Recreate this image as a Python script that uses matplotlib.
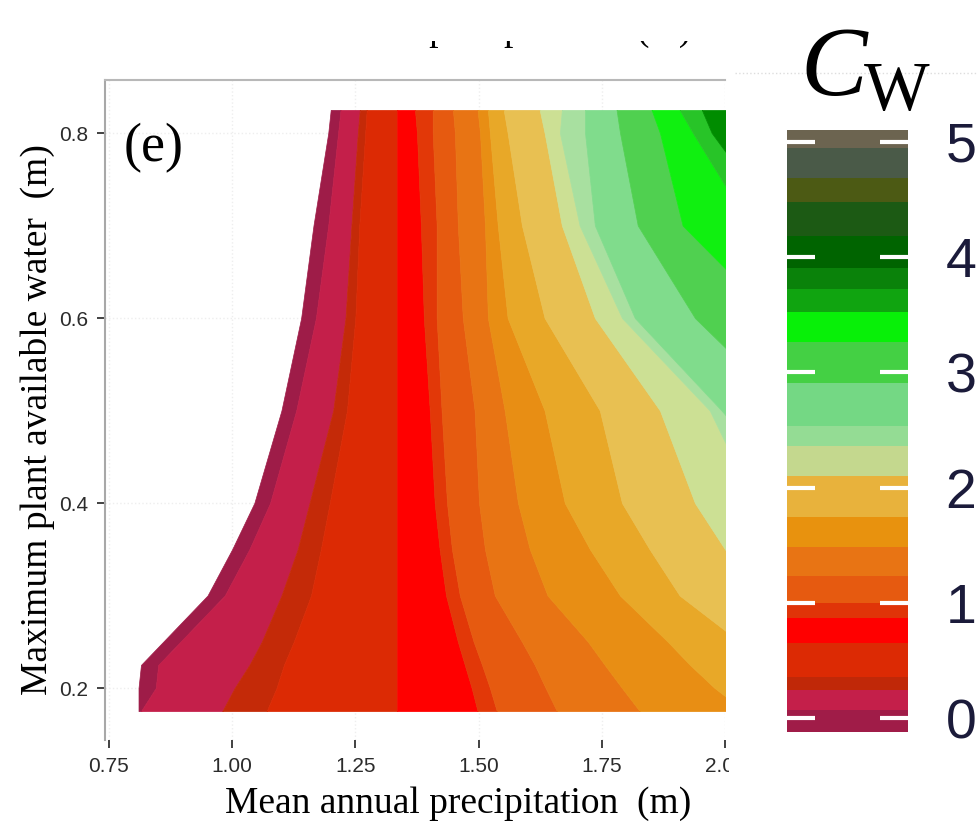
import numpy as np
import matplotlib
matplotlib.use('Agg')
import matplotlib.pyplot as plt
from matplotlib.patches import Rectangle

serif = ['Liberation Serif', 'DejaVu Serif']
narrow = ['Liberation Sans Narrow', 'Liberation Sans', 'DejaVu Sans']

y_levels = [0.175, 0.2, 0.225, 0.25, 0.3, 0.35, 0.4, 0.5, 0.6, 0.7, 0.8, 0.825]

# x position (m) of each band edge at those y levels, left to right
edge_x = [0.81, 0.81, 0.815, 0.86, 0.95, 1.00, 1.045, 1.10, 1.14, 1.165, 1.195, 1.20]
b1 = [0.815, 0.845, 0.85, 0.895, 0.985, 1.035, 1.077, 1.13, 1.17, 1.195, 1.215, 1.22]
b2 = [0.98, 1.005, 1.035, 1.06, 1.10, 1.133, 1.157, 1.205, 1.23, 1.242, 1.255, 1.259]
b3 = [1.07, 1.09, 1.105, 1.125, 1.16, 1.18, 1.198, 1.233, 1.25, 1.258, 1.27, 1.273]
b4 = [1.335, 1.335, 1.335, 1.335, 1.335, 1.335, 1.335, 1.335, 1.335, 1.335, 1.335, 1.335]
b5 = [1.498, 1.486, 1.472, 1.458, 1.434, 1.421, 1.411, 1.401, 1.389, 1.383, 1.375, 1.371]
b6 = [1.537, 1.523, 1.507, 1.490, 1.462, 1.446, 1.436, 1.425, 1.415, 1.415, 1.407, 1.407]
b7 = [1.659, 1.636, 1.614, 1.588, 1.533, 1.513, 1.501, 1.492, 1.468, 1.458, 1.452, 1.448]
b8 = [1.827, 1.791, 1.756, 1.722, 1.640, 1.604, 1.580, 1.553, 1.519, 1.513, 1.503, 1.498]
b9 = [2.04, 1.979, 1.929, 1.884, 1.787, 1.726, 1.675, 1.634, 1.559, 1.539, 1.523, 1.519]
b10 = [2.192, 2.131, 2.081, 2.03, 1.908, 1.847, 1.791, 1.746, 1.634, 1.588, 1.559, 1.551]
b11 = [2.354, 2.294, 2.233, 2.172, 2.07, 2.0, 1.939, 1.868, 1.736, 1.669, 1.634, 1.624]
b12 = [2.517, 2.456, 2.395, 2.334, 2.212, 2.131, 2.06, 1.969, 1.791, 1.705, 1.665, 1.669]
b13 = [2.618, 2.557, 2.496, 2.436, 2.314, 2.233, 2.152, 1.993, 1.817, 1.736, 1.716, 1.716]
b14 = [2.7, 2.65, 2.6, 2.55, 2.45, 2.35, 2.273, 2.131, 1.939, 1.823, 1.787, 1.780]
b15 = [2.8, 2.75, 2.7, 2.65, 2.55, 2.45, 2.4, 2.25, 2.1, 1.914, 1.868, 1.851]
b16 = [2.9, 2.85, 2.8, 2.75, 2.65, 2.55, 2.5, 2.35, 2.17, 2.05, 1.935, 1.908]
b17 = [3.0, 2.95, 2.9, 2.85, 2.75, 2.65, 2.6, 2.45, 2.25, 2.111, 1.973, 1.953]
right_x = [3.5] * 12

band_colors = ['#9e1c48', '#c41f4a', '#c42a08', '#dc2a04', '#ff0000', '#e23808',
               '#e65a10', '#e87414', '#e88e14', '#e8a828', '#e8c052', '#cce094',
               '#a8e0a0', '#80dc8c', '#50d050', '#10f010', '#28c428', '#008c00']

# colour key (C_W)
cb_bounds = [-0.12, 0.07, 0.24, 0.36, 0.65, 0.87, 1.0, 1.23, 1.48, 1.74, 2.1, 2.36,
             2.53, 2.91, 3.26, 3.52, 3.72, 3.9, 4.18, 4.48, 4.68, 4.94, 5.1]
cb_colors = ['#a01c48', '#c41f4a', '#c02808', '#dc2a04', '#ff0000', '#e03408',
             '#e65a10', '#e87414', '#e8920e', '#e8b23c', '#c4d88e', '#94dc94',
             '#74d884', '#44d044', '#08f008', '#10a410', '#0a820a', '#006400',
             '#1c5a14', '#4c5a14', '#4a5a48', '#6c6450']
cb_ticks = [0, 1, 2, 3, 4, 5]

x_ticks = [0.75, 1.0, 1.25, 1.5, 1.75, 2.0]
x_ticklabels = ['0.75', '1.00', '1.25', '1.50', '1.75', '2.00']
y_ticks = [0.2, 0.4, 0.6, 0.8]

W, H = 978, 834
fig = plt.figure(figsize=(W / 100, H / 100), dpi=100)

ax = fig.add_axes([105 / W, 94 / H, 620 / W, 660 / H])
bounds = [edge_x, b1, b2, b3, b4, b5, b6, b7, b8, b9, b10, b11, b12, b13, b14,
          b15, b16, b17, right_x]
for k, c in enumerate(band_colors):
    ax.fill_betweenx(y_levels, bounds[k], bounds[k + 1], color=c, ec=c, lw=0.5)

ax.set_xlim(0.742, 2.0)
ax.set_ylim(0.1438, 0.8573)
ax.set_xticks(x_ticks)
ax.set_xticklabels(x_ticklabels)
ax.set_yticks(y_ticks)
ax.set_yticklabels(['0.2', '0.4', '0.6', '0.8'])
ax.grid(True, color='#eeeeee', lw=1, ls=':')
ax.set_axisbelow(True)
for s in ['right', 'bottom']:
    ax.spines[s].set_visible(False)
ax.spines['left'].set_color('#a8a8a8')
ax.spines['left'].set_linewidth(1.5)
ax.spines['top'].set_color('#b8b8b8')
ax.spines['top'].set_linewidth(1.5)
ax.tick_params(length=6, width=1.3, color='#333333', labelcolor='#2b2b2b', pad=6)
for lab in ax.get_xticklabels() + ax.get_yticklabels():
    lab.set_family(narrow)
    lab.set_fontsize(15)

ax.set_xlabel('Mean annual precipitation  (m)', family=serif, fontsize=27)
ax.xaxis.set_label_coords((458 - 105) / 620, -0.07)
ax.set_ylabel('Maximum plant available water  (m)', family=serif, fontsize=27)
ax.yaxis.set_label_coords(-0.08, 0.485)
ax.text(0.03, 0.897, '(e)', transform=ax.transAxes, family=serif, fontsize=39,
        va='center', ha='left')

# colour key
cax = fig.add_axes([787 / W, (H - 732) / H, 121 / W, 602 / H])
cax.bar(0, np.diff(cb_bounds), bottom=cb_bounds[:-1], width=1, color=cb_colors)
cax.set_xlim(-0.5, 0.5)
cax.set_ylim(cb_bounds[0], cb_bounds[-1])
cax.set_xticks([])
cax.set_yticks(cb_ticks)
for s in cax.spines.values():
    s.set_visible(False)
cax.tick_params(axis='y', direction='in', length=20, width=3, color='white',
                left=True, right=True, labelleft=False, labelright=True,
                labelcolor='#1b1b3a', pad=27)
for lab in cax.get_yticklabels():
    lab.set_family(narrow)
    lab.set_fontsize(40)

fig.text(800 / W, (H - 95) / H, 'C', family=serif, style='italic', fontsize=72,
         va='baseline', ha='left')
fig.text(864 / W, (H - 110) / H, 'W', family=serif, fontsize=50,
         va='baseline', ha='left')
fig.add_artist(plt.Line2D([735 / W, 1], [(H - 73) / H] * 2, color='#dddddd',
                          lw=1, ls=':'))

# label of the panel above, cut off by the crop
fig.text(458 / W, (H - 40) / H, 'Mean annual precipitation  (m)', family=serif,
         fontsize=27, va='baseline', ha='center')
fig.add_artist(Rectangle((0.15, (H - 41) / H), 0.6, 41 / H, transform=fig.transFigure,
                         fc='white', ec='none', zorder=10))
# right edge of the crop clips the last tick label
fig.add_artist(Rectangle((729 / W, (H - 792) / H), 40 / W, 42 / H,
                         transform=fig.transFigure, fc='white', ec='none', zorder=10))

fig.savefig('out.png', dpi=100)
